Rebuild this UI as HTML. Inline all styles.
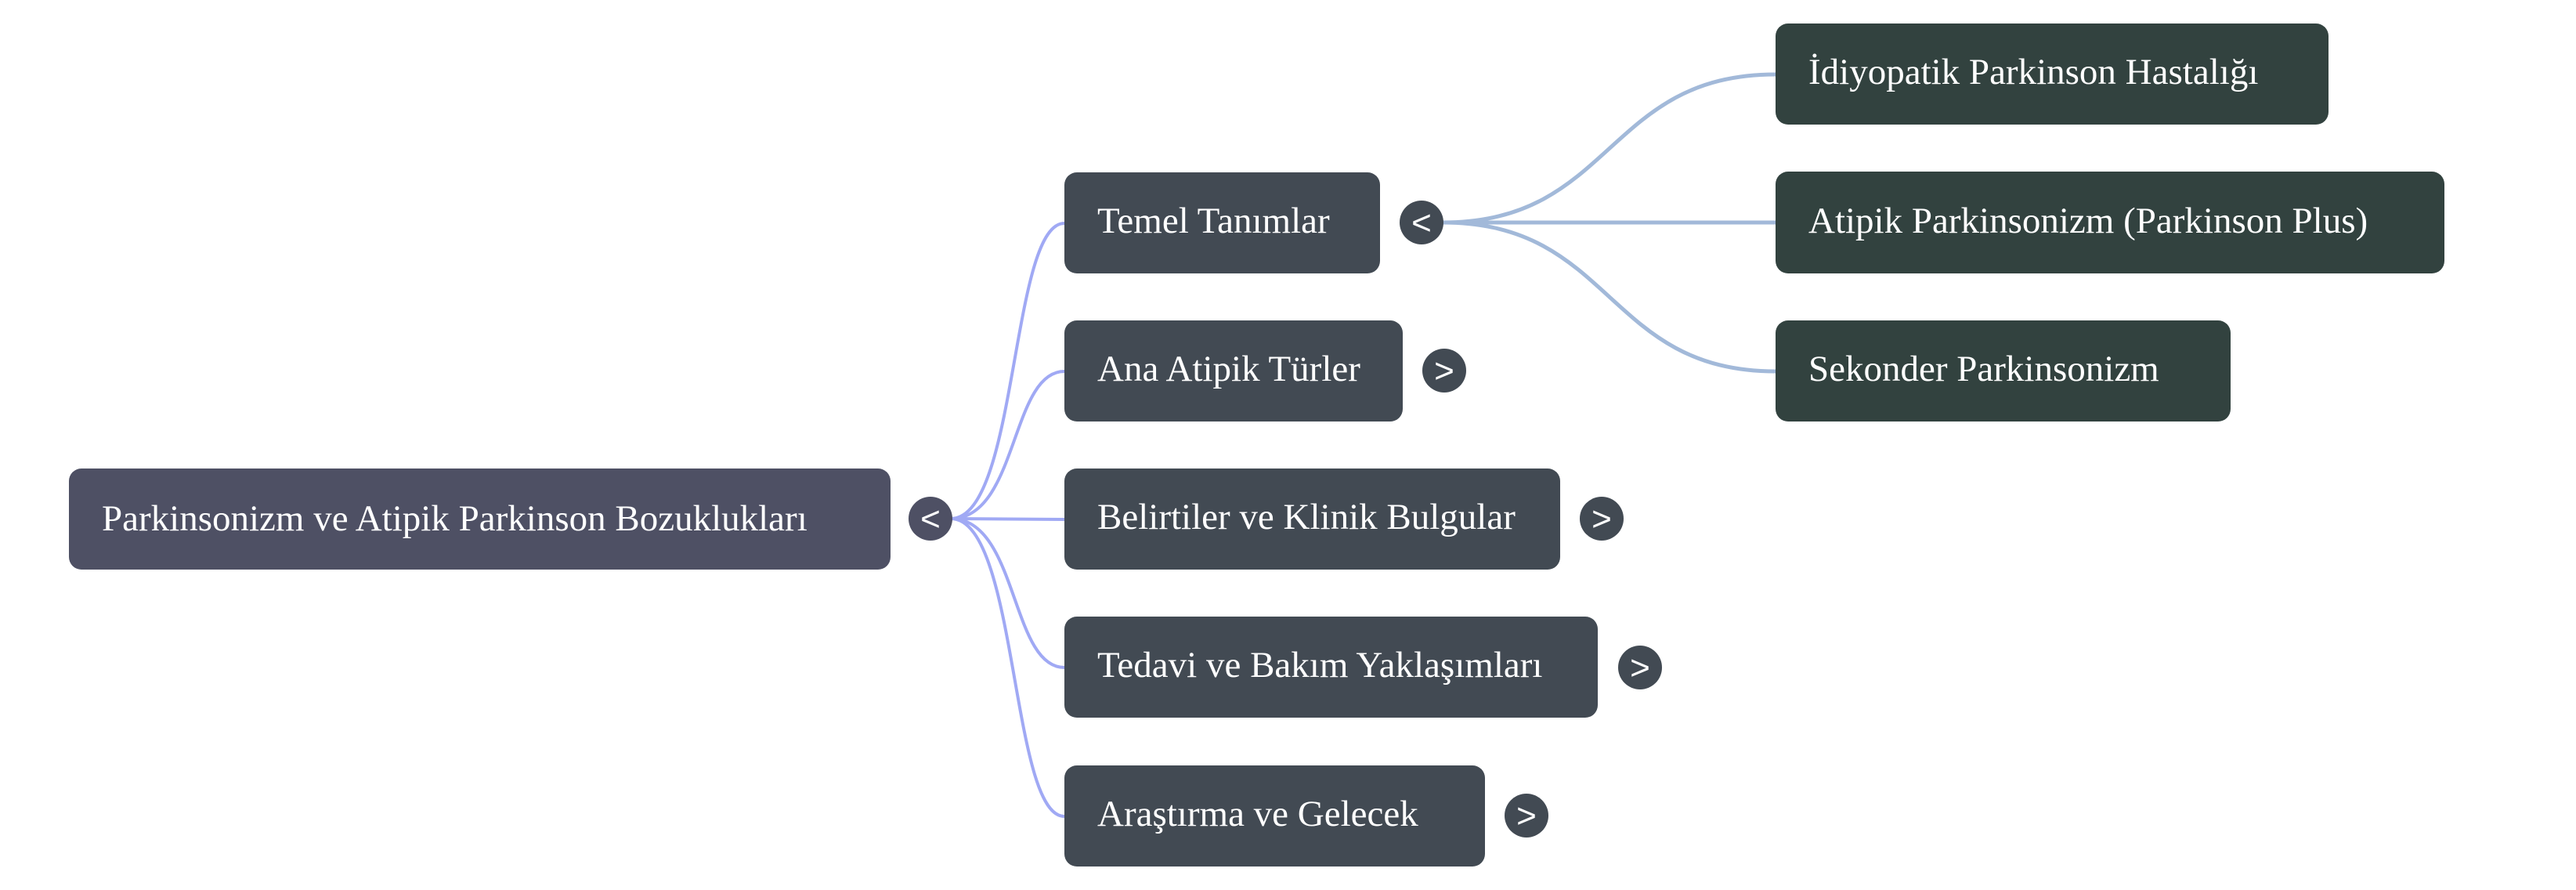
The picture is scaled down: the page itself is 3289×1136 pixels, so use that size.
<!DOCTYPE html>
<html><head><meta charset="utf-8"><style>
html,body{margin:0;padding:0;background:#fff;}
svg{display:block}
text{font-family:"Liberation Serif",serif;fill:#fff;}
.c{font-family:"Liberation Sans",sans-serif;font-size:44px;}
</style></head><body>
<svg width="3289" height="1136" viewBox="0 0 3289 1136" xmlns="http://www.w3.org/2000/svg">
<g fill="none" stroke="#a0a9f4" stroke-width="4">
<path d="M1214 662 C1300 662 1290 285 1359 285"/>
<path d="M1214 662 C1300 662 1290 474 1359 474"/>
<path d="M1214 662 L1359 663"/>
<path d="M1214 662 C1300 662 1290 852 1359 852"/>
<path d="M1214 662 C1300 662 1290 1042 1359 1042"/>
</g>
<g fill="none" stroke="#a2b9d9" stroke-width="5">
<path d="M1842 284 C2060 284 2050 95 2267 95"/>
<path d="M1842 284 L2267 284"/>
<path d="M1842 284 C2060 284 2050 474 2267 474"/>
</g>
<rect x="88" y="598" width="1049" height="129" rx="16" fill="#4e5064"/>
<text x="130" y="677" font-size="47">Parkinsonizm ve Atipik Parkinson Bozuklukları</text>
<circle cx="1188" cy="662" r="28" fill="#4e5064"/>
<text class="c" x="1188" y="677" text-anchor="middle">&lt;</text>

<g fill="#424a53">
<rect x="1359" y="220" width="403" height="129" rx="16"/>
<rect x="1359" y="409" width="432" height="129" rx="16"/>
<rect x="1359" y="598" width="633" height="129" rx="16"/>
<rect x="1359" y="787" width="681" height="129" rx="16"/>
<rect x="1359" y="977" width="537" height="129" rx="16"/>
<circle cx="1815" cy="284" r="28"/>
<circle cx="1844" cy="473" r="28"/>
<circle cx="2045" cy="662" r="28"/>
<circle cx="2094" cy="852" r="28"/>
<circle cx="1949" cy="1041" r="28"/>
</g>
<g font-size="47">
<text x="1401" y="297">Temel Tanımlar</text>
<text x="1401" y="486">Ana Atipik Türler</text>
<text x="1401" y="675">Belirtiler ve Klinik Bulgular</text>
<text x="1401" y="864">Tedavi ve Bakım Yaklaşımları</text>
<text x="1401" y="1054">Araştırma ve Gelecek</text>
</g>
<text class="c" x="1815" y="299" text-anchor="middle">&lt;</text>
<text class="c" x="1844" y="488" text-anchor="middle">&gt;</text>
<text class="c" x="2045" y="677" text-anchor="middle">&gt;</text>
<text class="c" x="2094" y="867" text-anchor="middle">&gt;</text>
<text class="c" x="1949" y="1056" text-anchor="middle">&gt;</text>

<g fill="#32423f">
<rect x="2267" y="30" width="706" height="129" rx="16"/>
<rect x="2267" y="219" width="854" height="130" rx="16"/>
<rect x="2267" y="409" width="581" height="129" rx="16"/>
</g>
<g font-size="47">
<text x="2309" y="107">İdiyopatik Parkinson Hastalığı</text>
<text x="2309" y="297">Atipik Parkinsonizm (Parkinson Plus)</text>
<text x="2309" y="486">Sekonder Parkinsonizm</text>
</g>
</svg>
</body></html>
